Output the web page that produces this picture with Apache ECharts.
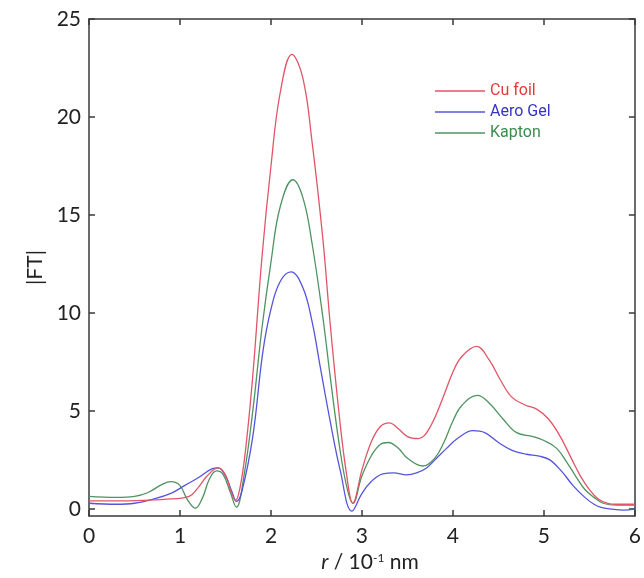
<!DOCTYPE html>
<html>
<head>
<meta charset="utf-8">
<script src="https://cdn.jsdelivr.net/npm/echarts@6/dist/echarts.min.js"></script>
<style>
  html, body { margin: 0; padding: 0; background: #fff; }
  #chart { width: 644px; height: 578px; }
</style>
</head>
<body>
<div id="chart"></div>
<script>
// |FT| magnitude versus r (in 10^-1 nm) for three window materials
const seriesNames = ['Cu foil', 'Aero Gel', 'Kapton'];
const lineColors = ['#e25566', '#5454dc', '#4e9360'];
const textColors = ['#e23a3a', '#3434c8', '#3c8a4e'];
const yTicks = [0, 5, 10, 15, 20, 25];

const cuFoil = [
  [0, 0.42], [0.3, 0.42], [0.6, 0.45], [0.9, 0.52], [1.1, 0.65], [1.2, 1.1],
  [1.3, 1.7], [1.42, 2.1], [1.5, 1.75], [1.56, 0.9], [1.61, 0.45], [1.66, 1.1],
  [1.72, 3.0], [1.8, 6.8], [1.9, 12.8], [2.0, 17.5], [2.1, 21.2], [2.23, 23.2],
  [2.35, 22.0], [2.45, 18.8], [2.57, 13.8], [2.65, 9.5], [2.75, 4.8], [2.83, 1.8],
  [2.9, 0.3], [3.0, 2.0], [3.1, 3.4], [3.2, 4.2], [3.3, 4.4], [3.4, 4.1],
  [3.5, 3.7], [3.62, 3.6], [3.75, 4.2], [3.9, 5.8], [4.0, 7.0], [4.1, 7.8],
  [4.26, 8.3], [4.4, 7.6], [4.52, 6.6], [4.65, 5.7], [4.8, 5.3], [4.92, 5.1],
  [5.05, 4.6], [5.18, 3.7], [5.3, 2.6], [5.4, 1.7], [5.5, 1.0], [5.6, 0.5],
  [5.7, 0.3], [5.8, 0.25], [6.0, 0.25]
];

const aeroGel = [
  [0, 0.3], [0.3, 0.25], [0.5, 0.3], [0.7, 0.5], [0.9, 0.8], [1.05, 1.2],
  [1.2, 1.6], [1.35, 2.05], [1.42, 2.1], [1.5, 1.7], [1.57, 0.9], [1.62, 0.4],
  [1.68, 0.9], [1.8, 3.7], [1.91, 8.0], [2.0, 10.2], [2.1, 11.6], [2.22, 12.1],
  [2.35, 11.3], [2.45, 9.6], [2.54, 7.3], [2.65, 4.5], [2.76, 2.0], [2.89, -0.1],
  [3.0, 0.8], [3.1, 1.4], [3.23, 1.8], [3.35, 1.85], [3.49, 1.75], [3.6, 1.85],
  [3.71, 2.1], [3.82, 2.6], [3.93, 3.1], [4.05, 3.6], [4.22, 4.0], [4.35, 3.9],
  [4.5, 3.4], [4.65, 3.0], [4.81, 2.8], [4.95, 2.7], [5.07, 2.5], [5.2, 1.9],
  [5.32, 1.2], [5.45, 0.6], [5.55, 0.25], [5.62, 0.1], [5.75, 0.0], [5.87, -0.05],
  [6.0, 0.0]
];

const kapton = [
  [0, 0.65], [0.3, 0.6], [0.5, 0.65], [0.65, 0.85], [0.8, 1.25], [0.9, 1.4],
  [1.0, 1.2], [1.08, 0.5], [1.17, 0.05], [1.25, 0.6], [1.32, 1.5], [1.4, 1.95],
  [1.47, 1.8], [1.55, 0.9], [1.62, 0.1], [1.7, 1.6], [1.8, 5.0], [1.9, 9.2],
  [2.0, 12.6], [2.1, 15.4], [2.24, 16.8], [2.35, 15.9], [2.45, 13.6], [2.57, 9.8],
  [2.65, 6.8], [2.75, 3.3], [2.83, 1.2], [2.9, 0.3], [3.0, 1.7], [3.1, 2.7],
  [3.2, 3.3], [3.29, 3.4], [3.4, 3.1], [3.5, 2.6], [3.67, 2.2], [3.8, 2.6],
  [3.9, 3.4], [4.0, 4.5], [4.1, 5.3], [4.27, 5.8], [4.4, 5.4], [4.55, 4.6],
  [4.7, 3.9], [4.88, 3.7], [5.0, 3.5], [5.14, 3.1], [5.25, 2.4], [5.36, 1.6],
  [5.45, 1.0], [5.55, 0.6], [5.65, 0.3], [5.8, 0.2], [6.0, 0.2]
];

const seriesData = [cuFoil, aeroGel, kapton];

const chart = echarts.init(document.getElementById('chart'), null, { renderer: 'canvas' });

const labelFont = { fontFamily: 'Lato, "Open Sans", sans-serif', fontSize: 21, color: '#222' };
// frame lines stay at the plot edges instead of jumping to zero
const axisLine = { show: true, onZero: false, lineStyle: { color: '#3a3a3a', width: 1.5 } };
const tickIn = { show: true, inside: true, length: 6, lineStyle: { color: '#3a3a3a', width: 1.5 } };

const xBase = { type: 'value', min: 0, max: 6, interval: 1, splitLine: { show: false } };
const yBase = { type: 'value', min: -0.35, max: 25, splitLine: { show: false } };

chart.setOption({
  backgroundColor: '#fff',
  animation: false,
  grid: { left: 89, right: 9, top: 19, bottom: 58, show: false },
  legend: {
    orient: 'vertical',
    left: 430,
    top: 78,
    icon: 'rect',
    itemWidth: 50,
    itemHeight: 1.6,
    itemGap: 5,
    data: seriesNames.map((n, i) => ({
      name: n,
      textStyle: { color: textColors[i] }
    })),
    textStyle: { fontFamily: 'Roboto, "Open Sans", sans-serif', fontSize: 16, padding: [0, 0, 0, 0] }
  },
  xAxis: [
    Object.assign({}, xBase, {
      position: 'bottom',
      axisLine: axisLine,
      axisTick: tickIn,
      axisLabel: Object.assign({ margin: 10 }, labelFont),
      name: '{i|r} / 10{s|-1} nm',
      nameLocation: 'middle',
      nameGap: 36,
      nameTextStyle: {
        fontFamily: 'Lato, "Open Sans", sans-serif', fontSize: 21, color: '#222',
        padding: [0, 0, 0, 16],
        rich: {
          i: { fontStyle: 'italic', fontFamily: 'Lato, "Open Sans", sans-serif', fontSize: 21, color: '#222' },
          s: { fontFamily: 'Lato, "Open Sans", sans-serif', fontSize: 12, color: '#222', verticalAlign: 'top', padding: [0, 0, 8, 0] }
        }
      }
    }),
    Object.assign({}, xBase, {
      position: 'top',
      axisLine: axisLine,
      axisTick: tickIn,
      axisLabel: { show: false }
    })
  ],
  yAxis: [
    Object.assign({}, yBase, {
      position: 'left',
      axisLine: axisLine,
      axisTick: Object.assign({}, tickIn, { customValues: yTicks }),
      axisLabel: Object.assign({ margin: 8, customValues: yTicks }, labelFont),
      name: '|FT|',
      nameLocation: 'middle',
      nameGap: 40,
      nameTextStyle: { fontFamily: 'Lato, "Open Sans", sans-serif', fontSize: 21, color: '#222' }
    }),
    Object.assign({}, yBase, {
      position: 'right',
      axisLine: axisLine,
      axisTick: Object.assign({}, tickIn, { customValues: yTicks }),
      axisLabel: { show: false }
    })
  ],
  series: seriesNames.map((n, i) => ({
    name: n,
    type: 'line',
    xAxisIndex: 0,
    yAxisIndex: 0,
    data: seriesData[i],
    smooth: 0.4,
    symbol: 'none',
    lineStyle: { color: lineColors[i], width: 1.3 },
    itemStyle: { color: lineColors[i] },
    z: 3 - i
  }))
});
</script>
</body>
</html>
